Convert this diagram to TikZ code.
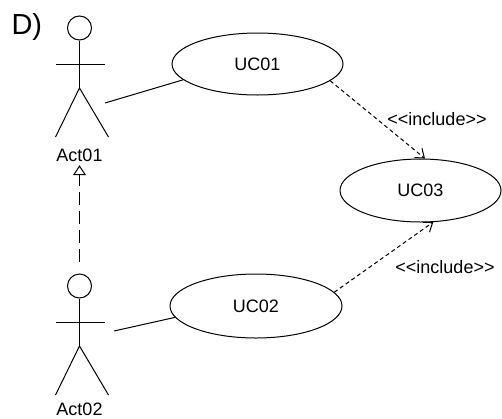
\documentclass[tikz,border=0pt]{standalone}
\usepackage{fontspec}
\newfontfamily\umlfont{Liberation Sans}
\usetikzlibrary{shapes.geometric, arrows.meta}

\begin{document}
\begin{tikzpicture}[x=1pt, y=-1pt, line width=1pt,
	font=\umlfont\fontsize{18}{20}\selectfont,
	usecase/.style={draw, ellipse, minimum width=171pt, minimum height=62pt, inner sep=0pt},
	actorhead/.style={draw, circle, minimum size=24pt, inner sep=0pt},
	include/.style={dash pattern=on 4pt off 3pt, -{Straight Barb[length=8pt, width=12pt]}},
	generalize/.style={dash pattern=on 13pt off 6pt, -{Triangle[open, length=10pt, width=13pt]}}]
	
	\useasboundingbox (0,0) rectangle (502,418);
	
	% --- Constants ---
	\def\ax{79.5}
	
	% =======================================================
	% ACTORS
	% =======================================================
	\foreach \n/\hy/\ly in {Act01/28/155, Act02/286/409} {
		\node[actorhead] (\n-head) at (\ax,\hy) {};
		\draw (\n-head.south) -- (\ax,\hy+60) coordinate (\n-hip);
		\draw (\ax-24,\hy+36) -- (\ax+25,\hy+36);
		\draw (\ax-24,\hy+109) -- (\n-hip) -- (\ax+29,\hy+109);
		\node (\n-lbl) at (\ax,\ly) {\n};
	}
	\coordinate (Act01-port) at (105,103);
	\coordinate (Act02-port) at (114,331);
	
	% =======================================================
	% USE CASES
	% =======================================================
	\node[usecase] (uc01) at (257.5,64) {UC01};
	\node[usecase, minimum width=172pt, minimum height=64pt] (uc02) at (256,306) {UC02};
	\node[usecase, minimum width=161pt, minimum height=63pt] (uc03) at (420.5,190.5) {UC03};
	
	% =======================================================
	% CONNECTORS
	% =======================================================
	\draw (Act01-port) -- (uc01.192);
	\draw (Act02-port) -- (uc02.188);
	\draw[generalize, shorten <=12pt] (Act02-head) -- (Act01-lbl);
	
	\draw[include] (uc01.-13) -- (uc03.82);
	\draw[include] (uc02.10) -- (uc03.-68);
	\node (inc1) at (437,119) {<<include>>};
	\node (inc2) at (445,267) {<<include>>};
	
	\node[font=\umlfont\fontsize{29}{30}\selectfont, anchor=base west, inner sep=0pt] (title) at (11,34) {D)};
	
\end{tikzpicture}
\end{document}
